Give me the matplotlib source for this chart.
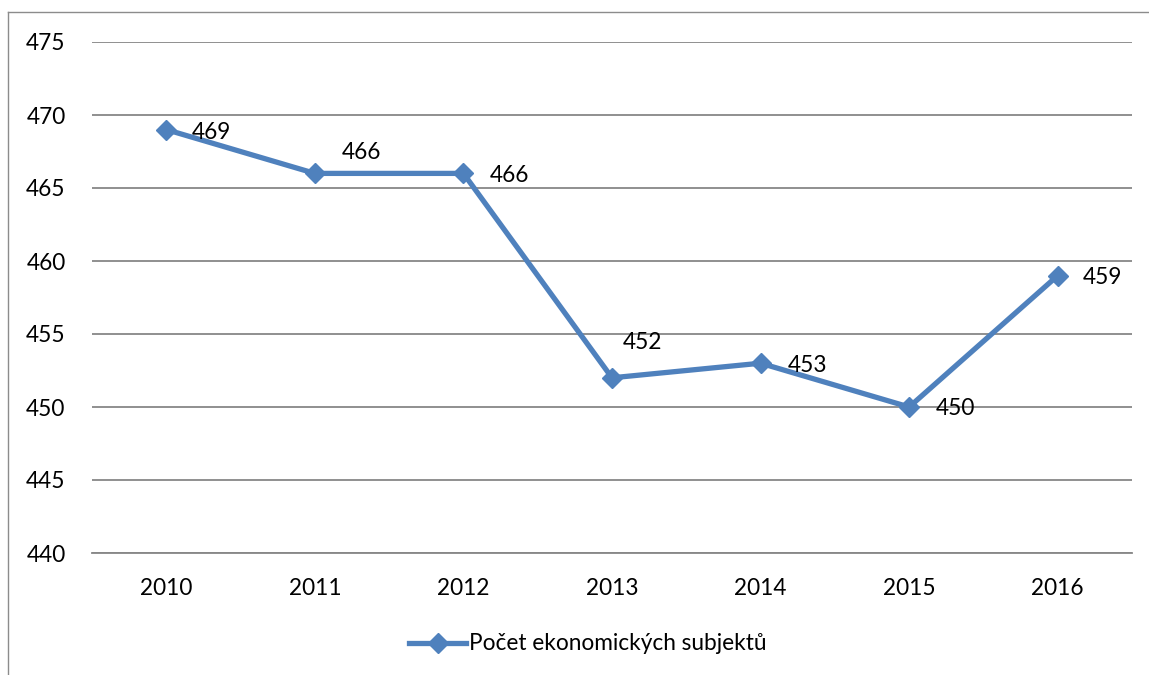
import matplotlib
matplotlib.use("Agg")
import matplotlib.pyplot as plt
from matplotlib.lines import Line2D

years = ["2010", "2011", "2012", "2013", "2014", "2015", "2016"]
values = [469, 466, 466, 452, 453, 450, 459]
series_name = "Počet ekonomických subjektů"
y_ticks = [440, 445, 450, 455, 460, 465, 470, 475]

# label offsets in points (dx, dy)
label_offsets = [(18.7, -2.2), (19.4, 15.1), (18.7, -1.4), (7.9, 25.2),
                 (19.4, -1.4), (19.4, -1.4), (18.0, -1.4)]

plt.rcParams['font.family'] = ['Lato', 'DejaVu Sans']
FS = 16.3
W, H = 1149, 675
fig = plt.figure(figsize=(W / 100, H / 100), dpi=100)
ax = fig.add_axes([92 / W, 1 - 553 / H, (1132 - 92) / W, (553 - 42) / H])

color = "#4F81BD"
grid_color = "#878787"
x = list(range(len(years)))
ax.plot(x, values, color=color, lw=3.8, marker="D", markersize=10,
        label=series_name, solid_joinstyle="miter")

for xi, v, (dx, dy) in zip(x, values, label_offsets):
    ax.annotate(str(v), (xi, v), xytext=(dx, dy), textcoords="offset points",
                ha="left", va="center", fontsize=FS, color="black")

ax.set_xlim(-0.5, len(years) - 0.5)
ax.set_ylim(440, 475)
ax.set_yticks(y_ticks)
ax.set_xticks(x)
ax.set_xticklabels(years)
ax.yaxis.grid(True, color=grid_color, lw=1.3)
ax.set_axisbelow(True)
for s in ["top", "right", "left"]:
    ax.spines[s].set_visible(False)
ax.spines["bottom"].set_color(grid_color)
ax.spines["bottom"].set_linewidth(1.3)
ax.tick_params(axis="both", length=0, labelsize=FS)
ax.tick_params(axis="y", pad=19)
ax.tick_params(axis="x", pad=18)

fig.legend(loc="center", bbox_to_anchor=(588 / W, 1 - 644 / H), frameon=False,
           fontsize=FS, handlelength=2.5, handletextpad=0.15)

# outer border (cut off at right and bottom)
fig.add_artist(Line2D([8 / W, 8 / W], [0, 1 - 12 / H], color="#8c8c8c", lw=1.0,
                      transform=fig.transFigure))
fig.add_artist(Line2D([8 / W, 1], [1 - 12 / H, 1 - 12 / H], color="#8c8c8c", lw=1.0,
                      transform=fig.transFigure))

fig.savefig("out.png", dpi=100)
